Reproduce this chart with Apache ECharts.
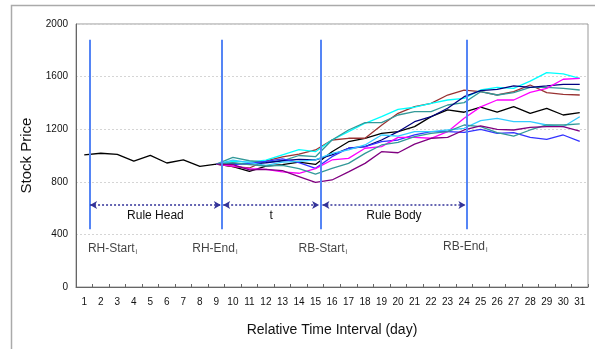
<!DOCTYPE html>
<html><head><meta charset="utf-8">
<script src="https://cdn.jsdelivr.net/npm/echarts@6/dist/echarts.min.js"></script>
<style>html,body{margin:0;padding:0;background:#fff}#c{width:595px;height:349px}</style>
</head><body><div id="c"></div><script>
// ---- data ----
const days = ['1','2','3','4','5','6','7','8','9','10','11','12','13','14','15','16','17','18','19','20','21','22','23','24','25','26','27','28','29','30','31'];
const yTicks = [0, 400, 800, 1200, 1600, 2000];
// black line: days 1..31
const blackLine = [1004,1017,1009,958,1001,943,966,918,935, 915,880,920,930,950,932,1029,1105,1131,1169,1182,1220,1296,1347,1329,1367,1329,1372,1321,1359,1308,1326];
// other lines: days 9..31
const maroonLine  = [935,915,905,960,990,1010,1042,1118,1131,1131,1230,1321,1371,1397,1460,1497,1485,1460,1485,1536,1478,1465,1460];
const cyanLine    = [935,955,950,965,1005,1045,1029,1118,1181,1245,1295,1351,1367,1397,1422,1435,1498,1518,1510,1566,1630,1620,1587];
const tealLine    = [935,985,960,950,960,1000,991,1118,1194,1250,1250,1308,1333,1333,1384,1402,1485,1460,1478,1518,1518,1510,1498];
const navyLine    = [935,940,935,945,960,970,966,1004,1055,1067,1118,1181,1257,1295,1359,1447,1493,1503,1529,1518,1529,1541,1541];
const blueLine    = [935,930,940,955,975,945,902,991,1055,1067,1105,1118,1156,1181,1181,1176,1199,1169,1174,1138,1123,1156,1108];
const magentaLine = [935,920,900,895,875,865,900,966,978,1055,1067,1138,1138,1131,1181,1283,1370,1422,1422,1480,1510,1580,1587];
const skyLine     = [935,965,945,925,950,955,966,1016,1042,1080,1156,1148,1181,1181,1194,1207,1265,1283,1257,1257,1232,1219,1295];
const teal2Line   = [935,945,930,920,925,900,859,902,940,1016,1080,1100,1143,1169,1181,1232,1220,1174,1148,1194,1232,1232,1240];
const purpleLine  = [935,930,890,895,885,840,795,814,876,940,1029,1021,1087,1131,1138,1194,1225,1199,1194,1214,1219,1220,1186];
// annotation positions (in day units on a continuous scale)
const phaseBounds = [1.35, 9.31, 15.32, 24.17];
const phaseNames = ['Rule Head', 't', 'Rule Body'];
const arrowSegs = [[1.35, 9.27], [9.41, 15.22], [15.42, 24.08]];
const boundLabels = [['RH-Start', 2.71, 289], ['RH-End', 8.91, 289], ['RB-Start', 15.44, 289], ['RB-End', 24.07, 304]];

// ---- chart ----
const FONT = 'Liberation Sans, Arial, sans-serif';
const pad = arr => new Array(8).fill(null).concat(arr);
const lines = [
  ['black', blackLine, '#000000', false],
  ['maroon', maroonLine, '#993333', true],
  ['cyan', cyanLine, '#00FFFF', true],
  ['teal', tealLine, '#339999', true],
  ['navy', navyLine, '#000080', true],
  ['blue', blueLine, '#3333FF', true],
  ['magenta', magentaLine, '#FF00FF', true],
  ['sky', skyLine, '#33CCFF', true],
  ['teal2', teal2Line, '#339999', true],
  ['purple', purpleLine, '#800080', true]
];
const series = lines.map(([n, arr, col, p]) => ({
  name: n, type: 'line', xAxisIndex: 0, yAxisIndex: 0,
  data: p ? pad(arr) : arr, symbol: 'none', showSymbol: false,
  lineStyle: { color: col, width: 1.3 }, itemStyle: { color: col },
  animation: false, silent: true, connectNulls: false
}));

series.push({
  type: 'line', xAxisIndex: 1, yAxisIndex: 0, data: [], silent: true, animation: false,
  markLine: {
    silent: true, animation: false, symbol: 'none',
    lineStyle: { color: '#5585F5', width: 2, type: 'solid' },
    label: { show: false },
    data: phaseBounds.map(x => [{ coord: [x, 1880] }, { coord: [x, 440] }])
  }
});
series.push({
  type: 'line', xAxisIndex: 1, yAxisIndex: 0, data: [], silent: true, animation: false,
  markLine: {
    silent: true, animation: false, symbol: ['arrow', 'arrow'], symbolSize: [6, 7],
    lineStyle: { color: '#333399', width: 1.5, type: [2, 2] },
    label: { show: true, position: 'insideMiddleBottom', distance: 5, color: '#111', fontSize: 12, fontFamily: FONT,
      formatter: p => p.name },
    data: arrowSegs.map((s, i) => [{ coord: [s[0], 624], name: phaseNames[i] }, { coord: [s[1], 624] }])
  }
});
series.push({
  type: 'scatter', xAxisIndex: 1, yAxisIndex: 0, symbolSize: 1, silent: true, animation: false,
  itemStyle: { color: 'rgba(0,0,0,0)' },
  data: boundLabels.map(b => ({ value: [b[1], b[2]], name: b[0] })),
  label: { show: true, position: 'inside', color: '#111', fontFamily: FONT,
    formatter: p => '{a|' + p.name + '}{s|i}',
    rich: { a: { fontSize: 12, fontFamily: FONT, color: '#111' }, s: { fontSize: 7, fontFamily: FONT, color: '#111', verticalAlign: 'bottom', padding: [6, 0, 0, 1] } } }
});

const chart = echarts.init(document.getElementById('c'), null, { renderer: 'canvas' });
chart.setOption({
  backgroundColor: '#fff',
  animation: false,
  graphic: [{ type: 'rect', shape: { x: 11.5, y: 5.5, width: 800, height: 600 }, style: { fill: 'none', stroke: '#aaa', lineWidth: 1.5 }, silent: true }],
  grid: { left: 76, right: 7, top: 24, bottom: 62, show: true, borderColor: '#999', borderWidth: 1, backgroundColor: 'transparent' },
  xAxis: [{
    type: 'category', data: days, boundaryGap: true,
    name: 'Relative Time Interval (day)', nameLocation: 'middle', nameGap: 36,
    nameTextStyle: { fontSize: 14, fontFamily: FONT, color: '#111' },
    axisLine: { lineStyle: { color: '#666', width: 1 } },
    axisTick: { show: true, inside: true, length: 3, lineStyle: { color: '#666' } },
    axisLabel: { interval: 0, fontSize: 10, fontFamily: FONT, color: '#111', margin: 10 },
    splitLine: { show: false }
  }, {
    type: 'value', min: 0.5, max: 31.5, show: false
  }],
  yAxis: [{
    type: 'value', min: yTicks[0], max: yTicks[yTicks.length - 1], interval: 400,
    name: 'Stock Price', nameLocation: 'middle', nameGap: 33,
    nameTextStyle: { fontSize: 15, fontFamily: FONT, color: '#111' },
    axisLine: { show: true, lineStyle: { color: '#666', width: 1 } },
    axisTick: { show: false },
    axisLabel: { fontSize: 10, fontFamily: FONT, color: '#111', margin: 8, formatter: v => String(v) },
    splitLine: { show: true, lineStyle: { color: '#d5d5d5', type: [2, 2], width: 1 } }
  }],
  series: series
});
</script></body></html>
